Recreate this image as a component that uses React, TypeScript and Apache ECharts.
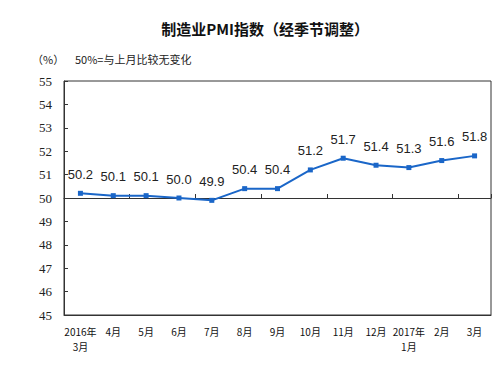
import React, { useEffect, useRef } from "react";
import * as echarts from "echarts";

const categories = ["2016年\n3月", "4月", "5月", "6月", "7月", "8月", "9月", "10月", "11月", "12月", "2017年\n1月", "2月", "3月"];
const pmiValues = [50.2, 50.1, 50.1, 50.0, 49.9, 50.4, 50.4, 51.2, 51.7, 51.4, 51.3, 51.6, 51.8];
const yMin = 45;
const yMax = 55;
const baseline = 50;

export default function App() {
  const ref = useRef<HTMLDivElement>(null);
  useEffect(() => {
    if (!ref.current) return;
    const chart = echarts.init(ref.current, undefined, { renderer: "svg" });
    const gridTop = 81;
    const gridHeight = 234;
    const baselineOffset = -gridHeight * (baseline - yMin) / (yMax - yMin);
    chart.setOption({
      animation: false,
      backgroundColor: "#fff",
      title: {
        text: "制造业PMI指数（经季节调整）",
        left: 260,
        textAlign: "center",
        top: 16,
        textStyle: { fontSize: 15, fontWeight: "bold", color: "#111", fontFamily: "Noto Sans CJK SC" },
      },
      graphic: [
        { type: "text", left: 32, top: 53, style: { text: "（%）", fontSize: 11, fill: "#222", fontFamily: "Noto Sans CJK SC" } },
        { type: "text", left: 75, top: 53, style: { text: "50%=与上月比较无变化", fontSize: 11, fill: "#222", fontFamily: "Noto Sans CJK SC" } },
      ],
      grid: {
        left: 64,
        top: gridTop,
        right: 7,
        height: gridHeight,
        show: true,
        borderColor: "#333",
        borderWidth: 1,
        backgroundColor: "transparent",
      },
      xAxis: [
        {
          type: "category",
          data: categories,
          position: "bottom",
          axisLine: { onZero: false, lineStyle: { color: "#333", width: 1 } },
          axisTick: { show: false },
          axisLabel: {
            color: "#111",
            fontSize: 10,
            fontFamily: "Noto Sans CJK SC",
            margin: 9,
            lineHeight: 15,
            interval: 0,
          },
        },
        {
          type: "category",
          data: categories,
          position: "bottom",
          offset: baselineOffset,
          axisLine: { onZero: false, lineStyle: { color: "#333", width: 1 } },
          axisTick: { show: true, inside: true, length: 4, lineStyle: { color: "#333" } },
          axisLabel: { show: false },
        },
      ],
      yAxis: {
        type: "value",
        min: yMin,
        max: yMax,
        interval: 1,
        axisLine: { show: true, lineStyle: { color: "#333" } },
        axisTick: { show: true, inside: true, length: 4, lineStyle: { color: "#333" } },
        splitLine: { show: false },
        axisLabel: { color: "#222", fontSize: 13, fontFamily: "Liberation Serif", margin: 12 },
      },
      series: [
        {
          type: "line",
          data: pmiValues,
          xAxisIndex: 0,
          symbol: "rect",
          symbolSize: 5,
          lineStyle: { color: "#1a66c8", width: 2 },
          itemStyle: { color: "#1a66c8" },
          label: {
            show: true,
            position: "top",
            distance: 10,
            color: "#222",
            fontSize: 13,
            fontFamily: "Liberation Sans",
            formatter: (p: any) => Number(p.value).toFixed(1),
          },
        },
      ],
    });
    return () => chart.dispose();
  }, []);
  return <div ref={ref} style={{ position: "absolute", left: 0, top: 0, width: 498, height: 367 }} />;
}
